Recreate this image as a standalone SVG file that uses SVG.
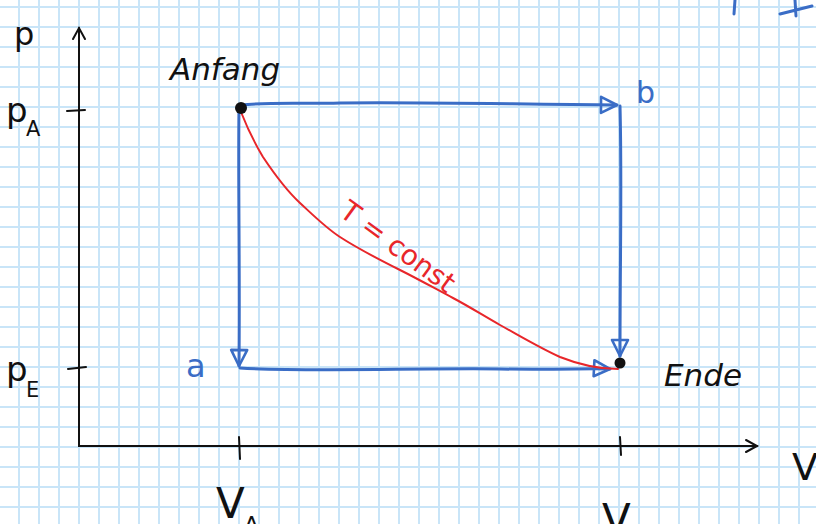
<svg xmlns="http://www.w3.org/2000/svg" width="816" height="524" viewBox="0 0 816 524">
<defs>
<pattern id="grid" patternUnits="userSpaceOnUse" x="18" y="6" width="20" height="20">
<path d="M1 0V20M0 1H20" stroke="#c9e5f8" stroke-width="2" fill="none"/>
</pattern>
<marker id="tri" markerUnits="userSpaceOnUse" viewBox="0 0 20 20" refX="18" refY="10" markerWidth="20" markerHeight="20" orient="auto">
<path d="M2 2L18 10L2 18Z" fill="none" stroke="#3a6dc6" stroke-width="2.6" stroke-linejoin="round"/>
</marker>
</defs>
<style>
.ax{stroke:#111;stroke-width:2;fill:none;stroke-linecap:round}
.bl{stroke:#3a6dc6;stroke-width:3;fill:none;stroke-linecap:round;stroke-linejoin:round}
.rd{stroke:#e8262a;stroke-width:2;fill:none;stroke-linecap:round}
.tk{font-family:"DejaVu Sans",sans-serif;fill:#111}
.tb{font-family:"DejaVu Sans",sans-serif;fill:#3a6dc6}
.tr{font-family:"DejaVu Sans",sans-serif;fill:#e8262a}
</style>
<rect width="816" height="524" fill="#ffffff"/>
<rect width="816" height="524" fill="url(#grid)"/>
<g id="axes">
<path class="ax" d="M79 28V446H757"/>
<path class="ax" d="M73 39L79 28L85 39"/>
<path class="ax" d="M746 440L757 446L746 452"/>
<path class="ax" d="M67 111L85 110"/>
<path class="ax" d="M68 369L86 367"/>
<path class="ax" d="M239 437L240 459"/>
<path class="ax" d="M620 437L621 455"/>
<text class="tk" x="14" y="45" font-size="32">p</text>
<text class="tk" x="6" y="122" font-size="34">p</text>
<text class="tk" x="26" y="136" font-size="21">A</text>
<text class="tk" x="6" y="381" font-size="34">p</text>
<text class="tk" x="26" y="397" font-size="21">E</text>
<text class="tk" x="792" y="480" font-size="38">V</text>
<text class="tk" x="216" y="518" font-size="42">V</text>
<text class="tk" x="244" y="532" font-size="22">A</text>
<text class="tk" x="602" y="534" font-size="42">V</text>
</g>
<g id="connectors">
<path id="edge-top" class="bl" d="M241 105C270 102 300 104 340 103C420 102 500 104 617 105" marker-end="url(#tri)"/>
<path id="edge-right" class="bl" d="M620 106C622 180 620 260 620 356" marker-end="url(#tri)"/>
<path id="edge-left" class="bl" d="M239 108C238 180 240 270 239 366" marker-end="url(#tri)"/>
<path id="edge-bottom" class="bl" d="M240 368C300 372 420 368 500 369C560 370 590 368 610 369" marker-end="url(#tri)"/>
<path id="isotherm" class="rd" d="M241 112C248 130 254 142 263 157C275 175 286 190 300 203C313 215 326 228 340 237C360 250 380 260 400 270C418 279 436 289 453 298C470 307 484 316 500 325C520 336 540 348 560 357C580 365 598 369 618 369"/>
</g>
<g id="node-anfang">
<circle cx="241" cy="108" r="6" fill="#111"/>
<text class="tk" x="170" y="80" font-size="31" font-style="italic">Anfang</text>
</g>
<g id="node-b">
<text class="tb" x="636" y="103" font-size="30">b</text>
</g>
<g id="node-a">
<text class="tb" x="186" y="377" font-size="32">a</text>
</g>
<g id="node-ende">
<circle cx="620" cy="363" r="5.5" fill="#111"/>
<text class="tk" x="664" y="386" font-size="31" font-style="italic">Ende</text>
</g>
<g id="label-isotherm">
<text class="tr" x="0" y="0" font-size="28" transform="translate(338 215) rotate(36)">T = const</text>
</g>
<g id="marks">
<path class="bl" d="M735 0L734 14"/>
<path class="bl" d="M780 14L812 6M795 0L796 16"/>
</g>
</svg>
